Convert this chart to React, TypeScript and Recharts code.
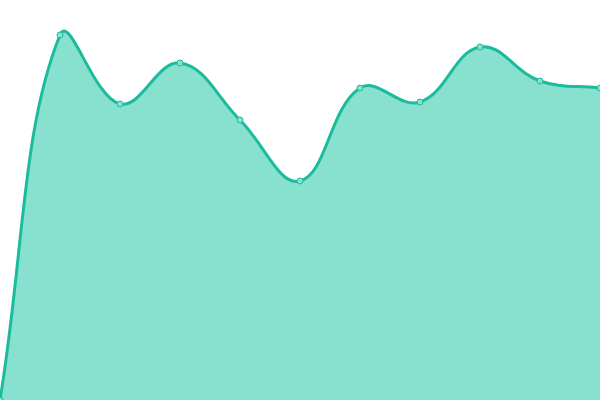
import { AreaChart, Area, XAxis, YAxis } from 'recharts'

const categories = ['1', '2', '3', '4', '5', '6', '7', '8', '9', '10', '11']
const values = [0, 365, 296, 337, 280, 219, 312, 298, 353, 319, 312]

const data = categories.map((name, i) => ({ name, value: values[i] }))

const W = 600
const H = 400

// distance-weighted spline (tension 0.4), d3-style curve factory interface
function weightedSpline(t: number) {
  return (context: any) => {
    let line = NaN
    let pts: number[][] = []
    const clampX = (v: number) => Math.max(0, Math.min(W, v))
    const clampY = (v: number) => Math.max(0, Math.min(H, v))
    return {
      areaStart() {
        line = 0
      },
      areaEnd() {
        line = NaN
      },
      lineStart() {
        pts = []
      },
      lineEnd() {
        const n = pts.length
        if (n) {
          if (line) context.lineTo(pts[0][0], pts[0][1])
          else context.moveTo(pts[0][0], pts[0][1])
          const before: number[][] = []
          const after: number[][] = []
          for (let i = 0; i < n; i++) {
            const cur = pts[i]
            const prev = pts[i - 1] || cur
            const next = pts[i + 1] || cur
            const d01 = Math.hypot(cur[0] - prev[0], cur[1] - prev[1])
            const d12 = Math.hypot(next[0] - cur[0], next[1] - cur[1])
            let s01 = d01 / (d01 + d12)
            let s12 = d12 / (d01 + d12)
            if (isNaN(s01)) s01 = 0
            if (isNaN(s12)) s12 = 0
            const fa = t * s01
            const fb = t * s12
            before.push([clampX(cur[0] - fa * (next[0] - prev[0])), clampY(cur[1] - fa * (next[1] - prev[1]))])
            after.push([clampX(cur[0] + fb * (next[0] - prev[0])), clampY(cur[1] + fb * (next[1] - prev[1]))])
          }
          for (let i = 0; i < n - 1; i++) {
            context.bezierCurveTo(after[i][0], after[i][1], before[i + 1][0], before[i + 1][1], pts[i + 1][0], pts[i + 1][1])
          }
        }
        if (line || (line !== 0 && n === 1)) context.closePath()
        line = 1 - line
      },
      point(x: number, y: number) {
        pts.push([+x, +y])
      },
    }
  }
}

const curve = weightedSpline(0.4)

export default function App() {
  return (
    <div style={{ position: 'absolute', left: 0, top: 0, width: W, height: H }}>
      <AreaChart width={W} height={H} data={data} margin={{ top: 0, right: 0, bottom: 0, left: 0 }}>
        <XAxis dataKey="name" hide padding={{ left: 0, right: 0 }} />
        <YAxis hide domain={[0, 400]} />
        <Area
          type={curve as any}
          dataKey="value"
          stroke="#1abc9c"
          strokeWidth={3}
          fill="#88e0cf"
          fillOpacity={1}
          dot={{ r: 3, fill: '#88e0cf', stroke: '#1abc9c', strokeWidth: 1, fillOpacity: 1 }}
          activeDot={false}
          isAnimationActive={false}
        />
      </AreaChart>
    </div>
  )
}
